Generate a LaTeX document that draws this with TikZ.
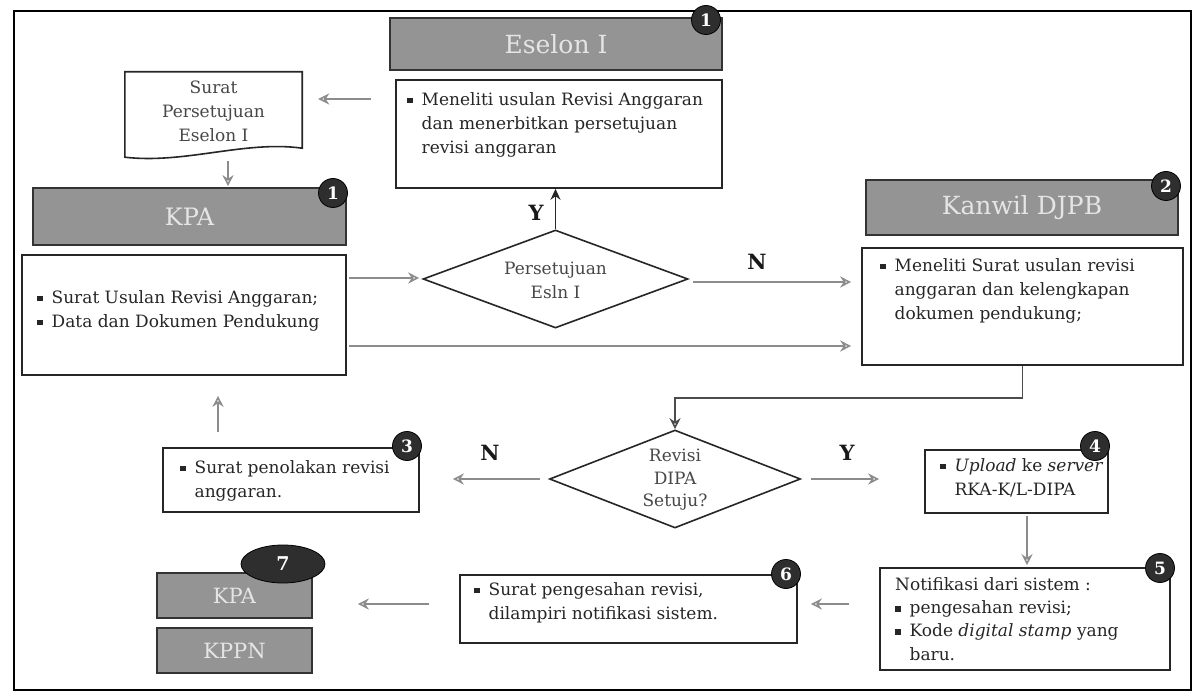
\documentclass[tikz,border=0pt]{standalone}
\usepackage{fontspec}
\setmainfont{DejaVu Serif}
\usetikzlibrary{shapes.geometric,arrows.meta,calc}
\newcommand{\bul}{\makebox[0.85em][l]{\rule[0.1em]{0.34em}{0.34em}}}
\newcommand{\ind}{\hspace*{0.85em}}
\begin{document}
\begin{tikzpicture}[x=1pt,y=-1pt,
  box/.style={draw=black!85,line width=1.6pt,fill=white,inner sep=0pt},
  hdr/.style={draw=black!80,line width=1.6pt,fill=black!42,text=white!90!black,font=\fontsize{25}{30}\selectfont,inner sep=0pt},
  badge/.style={circle,fill=black!82,draw=black,line width=0.8pt,text=white,font=\bfseries\fontsize{17}{17}\selectfont,inner sep=0pt,minimum size=29pt},
  txt/.style={anchor=north west,align=left,inner sep=0pt,text=black!85,font=\fontsize{17}{24}\selectfont},
  ctxt/.style={align=center,inner sep=0pt,text=black!72,font=\fontsize{17}{24}\selectfont},
  dia/.style={diamond,draw=black!85,line width=1.6pt,inner sep=0pt},
  garrow/.style={draw=black!45,line width=1.6pt,-{Stealth[open,length=11pt,width=11pt]}},
  karrow/.style={draw=black!85,line width=1.6pt,-{Stealth[length=11pt,width=10pt]}},
  lbl/.style={font=\bfseries\fontsize{21}{21}\selectfont,text=black!90,inner sep=0pt}
]
\useasboundingbox (0,0) rectangle (1196,700);
\fill[white] (0,0) rectangle (1196,700);
\draw[line width=1.5pt] (14,11) rectangle (1191,690);

% Eselon I
\node[hdr,minimum width=332,minimum height=52] (esh) at (556,44) {Eselon I};
\node[badge] (b1) at (706,20) {1};
\node[box,minimum width=326,minimum height=108] (esb) at (559,134) {};
\node[txt] (est) at (407,92) {\bul Meneliti usulan Revisi Anggaran\\\ind dan menerbitkan persetujuan\\\ind revisi anggaran};

% document
\node[inner sep=0pt,minimum width=177,minimum height=86] (doc) at (213.5,115) {};
\draw[box] (doc.north west) -- (doc.north east) -- ([yshift=10pt]doc.south east)
  .. controls ([xshift=-57pt,yshift=18pt]doc.south east) and ([xshift=60pt,yshift=-6pt]doc.south west) .. ([yshift=1pt]doc.south west) -- cycle;
\node[ctxt] (doct) at (213.5,111) {Surat\\Persetujuan\\Eselon I};

% KPA
\node[hdr,minimum width=313,minimum height=57,font=\fontsize{24}{28}\selectfont] (kpah) at (189.5,216.5) {KPA};
\node[badge] (b1b) at (333,193) {1};
\node[box,minimum width=324,minimum height=120] (kpab) at (184,315) {};
\node[txt] (kpat) at (37,290) {\bul Surat Usulan Revisi Anggaran;\\\bul Data dan Dokumen Pendukung};

% decision 1
\node[dia,minimum width=265,minimum height=98] (d1) at (555.5,279) {};
\node[ctxt] (d1t) at (555.5,280) {Persetujuan\\Esln I};

% Kanwil
\node[hdr,minimum width=312,minimum height=55] (kwh) at (1022,207.5) {Kanwil DJPB};
\node[badge] (b2) at (1166,186) {2};
\node[box,minimum width=321,minimum height=117] (kwb) at (1022.5,306.5) {};
\node[txt] (kwt) at (880,258) {\bul Meneliti Surat usulan revisi\\\ind anggaran dan kelengkapan\\\ind dokumen pendukung;};

% decision 2
\node[dia,minimum width=251,minimum height=98] (d2) at (675,479) {};
\node[ctxt,font=\fontsize{17}{22.5}\selectfont] (d2t) at (675,480) {Revisi\\DIPA\\Setuju?};

% box 3
\node[box,minimum width=256,minimum height=64] (b3x) at (291,480) {};
\node[badge] (b3) at (407,446) {3};
\node[txt] (b3t) at (180,460) {\bul Surat penolakan revisi\\\ind anggaran.};

% box 4
\node[box,minimum width=183,minimum height=63] (b4x) at (1016.5,481.5) {};
\node[badge] (b4) at (1095,446) {4};
\node[txt] (b4t) at (940,458) {\bul \textit{Upload} ke \textit{server}\\\ind RKA-K/L-DIPA};

% box 5
\node[box,minimum width=290,minimum height=102] (b5x) at (1025,619) {};
\node[badge] (b5) at (1160,568) {5};
\node[txt,font=\fontsize{17}{23.3}\selectfont] (b5t) at (895,577) {Notifikasi dari sistem :\\\bul pengesahan revisi;\\\bul Kode \textit{digital stamp} yang\\\ind baru.};

% box 6
\node[box,minimum width=337,minimum height=68] (b6x) at (628.5,609) {};
\node[badge] (b6) at (786,574) {6};
\node[txt] (b6t) at (474,582) {\bul Surat pengesahan revisi,\\\ind dilampiri notifikasi sistem.};

% box 7
\node[hdr,minimum width=155,minimum height=45,font=\fontsize{21}{26}\selectfont] (k7) at (234.5,595.5) {KPA};
\node[hdr,minimum width=155,minimum height=45,font=\fontsize{21}{26}\selectfont] (kppn) at (234.5,650.5) {KPPN};
\node[ellipse,fill=black!82,draw=black,line width=0.8pt,text=white,font=\bfseries\fontsize{19}{19}\selectfont,inner sep=0pt,minimum width=84,minimum height=38] (b7) at (283,564) {7};

% labels
\node[lbl] (ly1) at (536,213) {Y};
\node[lbl] (ln1) at (757,262) {N};
\node[lbl] (ln2) at (490,453) {N};
\node[lbl] (ly2) at (847,453) {Y};

% connectors
\draw[garrow,shorten <=24pt,shorten >=16pt] (esb.west |- 0,99) -- (doc.east |- 0,99);
\draw[garrow,shorten <=3pt,shorten >=1pt] (228,0 |- doc.south) -- (228,0 |- kpah.north);
\draw[garrow,shorten <=2pt,shorten >=3pt] (kpab.east |- 0,278) -- (d1.west |- 0,278);
\draw[karrow] (d1.north) -- (d1.north |- esb.south);
\draw[garrow,shorten <=4pt,shorten >=10pt] (d1.east |- 0,282) -- (kwb.west |- 0,282);
\draw[garrow,shorten <=2pt,shorten >=10pt] (kpab.east |- 0,346) -- (kwb.west |- 0,346);
\draw[draw=black!70,line width=1.6pt,-{Stealth[open,length=11pt,width=11pt]}] (kwb.south) -- (kwb.south |- 0,398) -- (d2.north |- 0,398) -- (d2.north);
\draw[garrow,shorten <=9pt,shorten >=33pt] (d2.west) -- (b3x.east |- d2.west);
\draw[garrow,shorten <=15pt,shorten >=20pt] (218,0 |- b3x.north) -- (218,0 |- kpab.south);
\draw[garrow,shorten <=10pt,shorten >=45pt] (d2.east) -- (b4x.west |- d2.east);
\draw[garrow,shorten <=2pt,shorten >=2pt] (1027,0 |- b4x.south) -- (1027,0 |- b5x.north);
\draw[garrow,shorten <=30pt,shorten >=13pt] (b5x.west |- 0,604) -- (b6x.east |- 0,604);
\draw[garrow,shorten <=30pt,shorten >=45pt] (b6x.west |- 0,604) -- (k7.east |- 0,604);
\end{tikzpicture}
\end{document}
